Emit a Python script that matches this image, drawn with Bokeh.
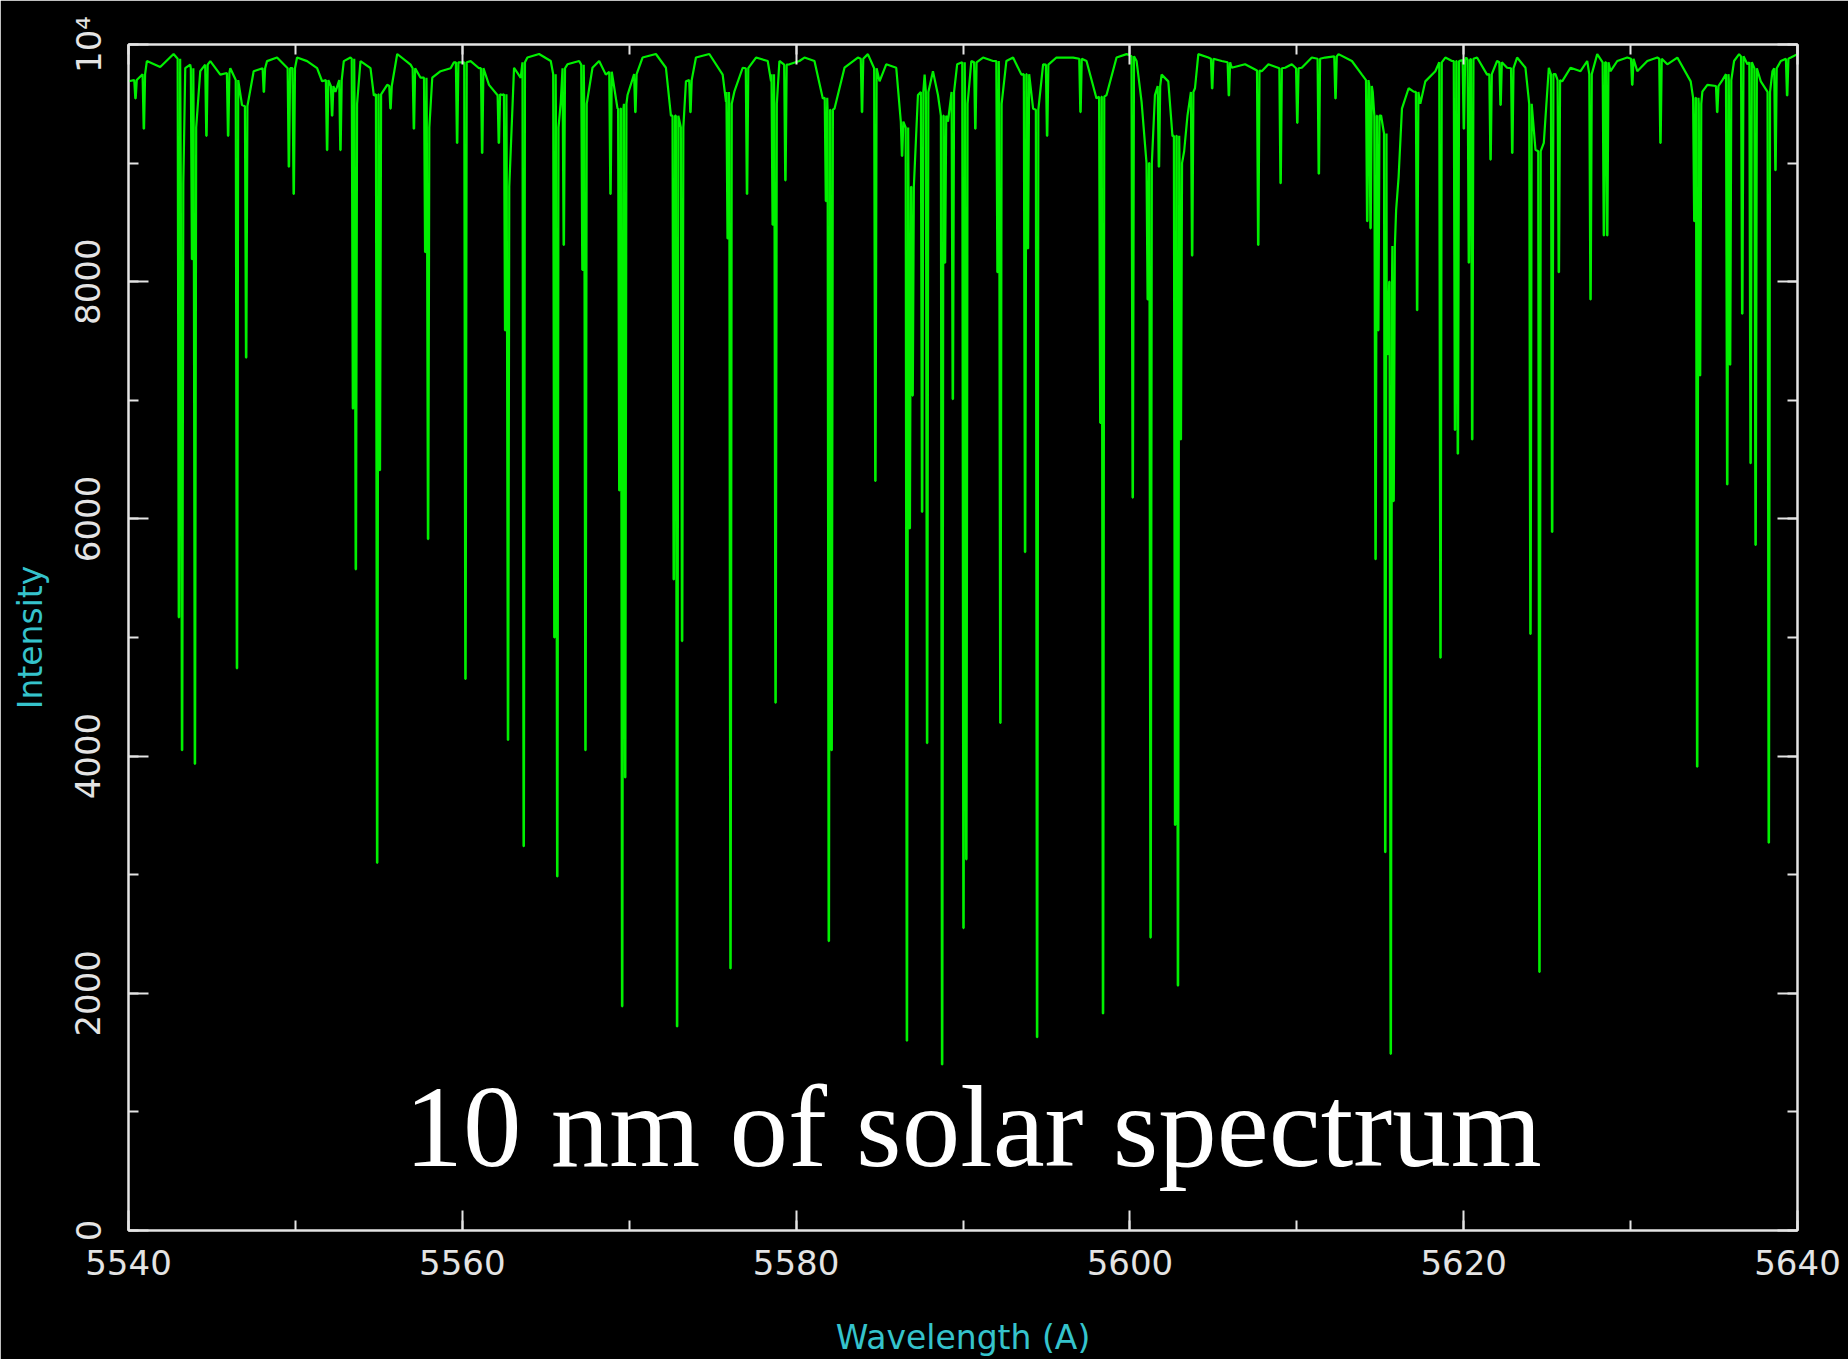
import numpy as np
from bokeh.plotting import figure
from bokeh.models import Range1d, LinearAxis, SingleIntervalTicker, Label, ColumnDataSource
from bokeh.embed import file_html
from bokeh.resources import INLINE

# ---------------- data ----------------
# absorption lines: centre wavelength (A), local top level, minimum intensity
line_wl = [5540.42, 5540.92, 5543.02, 5543.21, 5543.81, 5543.98, 5544.67, 5545.97,
           5546.50, 5547.05, 5548.11, 5549.61, 5549.90, 5551.90, 5552.20, 5552.70,
           5553.45, 5553.62, 5554.90, 5555.06, 5555.70, 5557.10, 5557.78, 5557.95,
           5559.69, 5560.19, 5561.19, 5562.19, 5562.57, 5562.74, 5563.68, 5565.52,
           5565.69, 5566.08, 5567.20, 5567.38, 5568.88, 5569.41, 5569.58, 5569.76,
           5570.37, 5572.67, 5572.87, 5573.17, 5573.67, 5575.90, 5576.07, 5577.06,
           5578.60, 5578.77, 5579.36, 5581.79, 5581.96, 5582.13, 5583.95, 5584.75,
           5586.35, 5586.64, 5586.81, 5586.98, 5587.55, 5587.85, 5588.75, 5588.92,
           5589.39, 5590.03, 5590.20, 5590.74, 5592.07, 5592.24, 5593.72, 5593.89,
           5594.44, 5595.04, 5597.04, 5598.23, 5598.39, 5600.17, 5601.07, 5601.24,
           5601.74, 5602.71, 5602.88, 5603.05, 5603.73, 5604.93, 5605.93, 5607.69,
           5609.03, 5610.03, 5611.32, 5612.32, 5614.22, 5614.42, 5614.72, 5614.88,
           5615.30, 5615.46, 5615.63, 5615.80, 5617.21, 5618.61, 5619.48, 5619.65,
           5620.01, 5620.31, 5620.51, 5621.61, 5622.21, 5622.91, 5624.00, 5624.54,
           5625.30, 5625.70, 5627.60, 5628.40, 5628.60, 5630.10, 5631.79, 5633.82,
           5633.99, 5634.16, 5635.19, 5635.79, 5635.96, 5636.69, 5637.19, 5637.49,
           5638.28, 5638.68, 5639.38]
line_top = [9700, 9750, 9880, 8830, 9800, 9300, 9830, 9760,
            9700, 9480, 9800, 9800, 9800, 9700, 9650, 9700,
            9880, 9500, 9580, 9580, 9650, 9800, 9720, 9300,
            9850, 9850, 9800, 9580, 9580, 8800, 9850, 9750,
            9300, 9800, 9830, 9500, 9770, 9460, 9460, 9500,
            9750, 9400, 9400, 9300, 9700, 9600, 9500, 9800,
            9750, 9500, 9830, 9550, 9450, 9450, 9880, 9800,
            9350, 9300, 8800, 8800, 9600, 9600, 9400, 9400,
            9600, 9850, 9500, 9850, 9860, 9500, 9750, 9750,
            9450, 9830, 9880, 9560, 9560, 9900, 9000, 9000,
            9650, 9230, 9230, 9000, 9600, 9880, 9850, 9780,
            9800, 9800, 9880, 9900, 9700, 9650, 9400, 9400,
            9250, 8000, 8000, 8300, 9600, 9850, 9860, 9860,
            9870, 9870, 9880, 9750, 9850, 9800, 9500, 9100,
            9750, 9700, 9750, 9850, 9850, 9880, 9880, 9550,
            9550, 9500, 9650, 9750, 9700, 9900, 9850, 9800,
            9600, 9800, 9880]
line_min = [9545, 9290, 5170, 4050, 8190, 3935, 9230, 9230,
            4740, 7360, 9600, 8970, 8740, 9110, 9400, 9110,
            6930, 5575, 3100, 6410, 9460, 9290, 8250, 5830,
            9170, 4650, 9085, 9170, 7590, 4136, 3240, 5000,
            2985, 8310, 8100, 4050, 8740, 6240, 1890, 3820,
            9430, 5490, 1720, 4970, 9430, 8365, 2210, 8740,
            8480, 4450, 8855, 8680, 2440, 4050, 9430, 6320,
            9060, 1600, 5920, 7040, 6060, 4110, 1400, 8160,
            7010, 2550, 3130, 9290, 8080, 4280, 5720, 8280,
            1630, 9230, 9430, 6810, 1830, 6180, 7850, 2470,
            8970, 3420, 2065, 6670, 8220, 9630, 9570, 8310,
            8830, 9340, 8910, 9545, 8510, 8450, 5660, 7590,
            3190, 7390, 1490, 6150, 7760, 4830, 6750, 6550,
            9290, 8160, 6670, 9030, 9490, 9085, 5030, 2180,
            5890, 8080, 7850, 8390, 8390, 9660, 9170, 8510,
            3910, 7210, 9430, 6290, 7300, 7730, 6470, 5780,
            3270, 8940, 9570]

# upper envelope (continuum) between the lines
cont_wl = [5540.0, 5541.1, 5541.9, 5542.7, 5543.4, 5543.7, 5544.3, 5544.9, 5545.5, 5546.1,
           5546.8, 5547.5, 5548.3, 5548.9, 5550.1, 5550.7, 5551.3, 5551.6, 5552.4, 5552.9,
           5553.3, 5553.9, 5554.5, 5554.7, 5555.5, 5556.1, 5556.9, 5557.5, 5558.2, 5558.7,
           5559.3, 5559.5, 5560.5, 5561.0, 5561.6, 5562.1, 5562.4, 5563.1, 5563.5, 5563.9,
           5564.6, 5565.3, 5565.9, 5566.3, 5567.0, 5567.8, 5568.2, 5568.6, 5569.3, 5569.9,
           5570.3, 5570.8, 5571.6, 5572.2, 5572.5, 5573.4, 5574.0, 5574.8, 5575.6, 5575.8,
           5576.3, 5576.8, 5577.6, 5578.3, 5578.5, 5579.0, 5579.6, 5580.2, 5580.5, 5581.1,
           5581.6, 5582.3, 5582.9, 5583.7, 5584.3, 5585.0, 5585.4, 5586.0, 5586.4, 5587.3,
           5587.7, 5588.2, 5588.5, 5589.1, 5589.65, 5590.5, 5591.2, 5591.8, 5592.6, 5593.0,
           5593.5, 5594.2, 5594.8, 5595.6, 5596.6, 5597.4, 5598.0, 5598.6, 5599.2, 5599.8,
           5600.4, 5600.7, 5601.5, 5601.9, 5602.3, 5602.55, 5603.25, 5603.45, 5603.9, 5604.1,
           5604.7, 5605.5, 5606.1, 5606.9, 5607.9, 5608.3, 5609.3, 5609.7, 5610.3, 5610.9,
           5611.7, 5612.5, 5613.3, 5613.9, 5614.55, 5615.05, 5615.95, 5616.1, 5616.3, 5616.7,
           5617.0, 5617.4, 5617.7, 5618.3, 5618.9, 5619.3, 5620.15, 5620.8, 5621.4, 5622.0,
           5622.6, 5623.2, 5623.7, 5624.3, 5624.8, 5625.1, 5625.5, 5625.9, 5626.4, 5627.0,
           5627.4, 5628.0, 5628.8, 5629.2, 5629.8, 5630.4, 5631.0, 5631.6, 5632.2, 5632.8,
           5633.6, 5634.3, 5634.6, 5635.5, 5636.2, 5636.5, 5637.0, 5637.8, 5638.5, 5639.0,
           5639.6, 5640.0]
cont_I = [9690, 9860, 9810, 9920, 9800, 9830, 9775, 9860, 9746, 9800,
          9490, 9775, 9860, 9890, 9890, 9860, 9800, 9690, 9600, 9860,
          9890, 9860, 9800, 9570, 9660, 9920, 9830, 9720, 9720, 9775,
          9800, 9850, 9860, 9800, 9660, 9574, 9574, 9804, 9718, 9890,
          9920, 9861, 9516, 9833, 9861, 9804, 9861, 9746, 9459, 9574,
          9718, 9890, 9920, 9804, 9401, 9689, 9890, 9920, 9746, 9516,
          9602, 9804, 9890, 9861, 9689, 9861, 9833, 9861, 9890, 9861,
          9545, 9459, 9804, 9890, 9919, 9689, 9833, 9804, 9344, 9574,
          9746, 9775, 9574, 9350, 9833, 9861, 9890, 9861, 9861, 9890,
          9746, 9459, 9833, 9890, 9890, 9861, 9545, 9574, 9890, 9919,
          9861, 9516, 9574, 9746, 9689, 9228, 9100, 9401, 9631, 9919,
          9890, 9861, 9804, 9833, 9775, 9833, 9804, 9833, 9804, 9890,
          9890, 9919, 9861, 9746, 9600, 9401, 8600, 8883, 9459, 9631,
          9602, 9500, 9689, 9775, 9890, 9861, 9890, 9890, 9746, 9861,
          9804, 9890, 9804, 9113, 9171, 9804, 9750, 9689, 9804, 9775,
          9861, 9919, 9775, 9861, 9890, 9775, 9861, 9890, 9833, 9890,
          9689, 9602, 9660, 9700, 9861, 9919, 9833, 9689, 9775, 9861,
          9890, 9919]

x_tick_step = 20
y_tick_step = 2000
y_label_overrides = {10000: "10\u2074"}
title_text = "10 nm of solar spectrum"
x_title = "Wavelength (A)"
y_title = "Intensity"

# ---------------- build the trace ----------------
HW = 0.075   # half width of a drawn line profile (A)
BOT = 0.012  # half width of its flat bottom (A)
verts = []
spans = []
for wl, top, mn in zip(line_wl, line_top, line_min):
    verts += [(wl - HW, top), (wl - BOT, mn), (wl + BOT, mn), (wl + HW, top)]
    spans.append((wl - HW, wl + HW))
for w, I in zip(cont_wl, cont_I):
    if not any(a <= w <= b for a, b in spans):
        verts.append((w, I))
verts.sort(key=lambda v: v[0])
src = ColumnDataSource(dict(x=[v[0] for v in verts], y=[v[1] for v in verts]))

FRAME = "#e4e4e4"
CYAN = "#35c3cc"
GREEN = "#00f000"

p = figure(width=1848, height=1359,
           x_range=Range1d(5540, 5640), y_range=Range1d(0, 10000),
           output_backend="svg", toolbar_location=None,
           x_axis_location=None, y_axis_location=None,
           min_border_left=128, min_border_right=51,
           min_border_top=44, min_border_bottom=129,
           background_fill_color="black", border_fill_color="black")
p.grid.visible = False
p.outline_line_color = FRAME
p.outline_line_width = 2


def make_axis(step, labels):
    ax = LinearAxis(ticker=SingleIntervalTicker(interval=step, num_minor_ticks=2))
    ax.axis_line_color = FRAME
    ax.axis_line_width = 2
    ax.major_tick_in = 20
    ax.major_tick_out = 0
    ax.minor_tick_in = 10
    ax.minor_tick_out = 0
    ax.major_tick_line_color = FRAME
    ax.minor_tick_line_color = FRAME
    ax.major_tick_line_width = 2
    ax.minor_tick_line_width = 2
    if labels:
        ax.major_label_text_font = "DejaVu Sans"
        ax.major_label_text_font_size = "34px"
        ax.major_label_text_color = FRAME
        ax.axis_label_text_font = "DejaVu Sans"
        ax.axis_label_text_font_size = "33px"
        ax.axis_label_text_font_style = "normal"
        ax.axis_label_text_color = CYAN
    else:
        # tick marks only: labels are not painted at all
        ax.major_label_text_color = None
        ax.major_label_text_alpha = 0
        ax.major_label_text_font_size = "10px"
        ax.major_label_standoff = 0
    return ax


xb = make_axis(x_tick_step, True)
xb.axis_label = x_title
xb.major_label_standoff = 19
xb.axis_label_standoff = 40
p.add_layout(xb, "below")

yl = make_axis(y_tick_step, True)
yl.axis_label = y_title
yl.major_label_orientation = "vertical"
yl.major_label_overrides = y_label_overrides
yl.major_label_standoff = 20
yl.axis_label_standoff = 16
p.add_layout(yl, "left")

p.add_layout(make_axis(x_tick_step, False), "above")
p.add_layout(make_axis(y_tick_step, False), "right")

p.line("x", "y", source=src, line_color=GREEN, line_width=2.2)

p.add_layout(Label(x=5590.6, y=876, text=title_text, text_font="Liberation Serif",
                   text_font_size="117px", text_color="white",
                   text_align="center", text_baseline="alphabetic"))

open("out.html", "w").write(file_html(p, INLINE))
